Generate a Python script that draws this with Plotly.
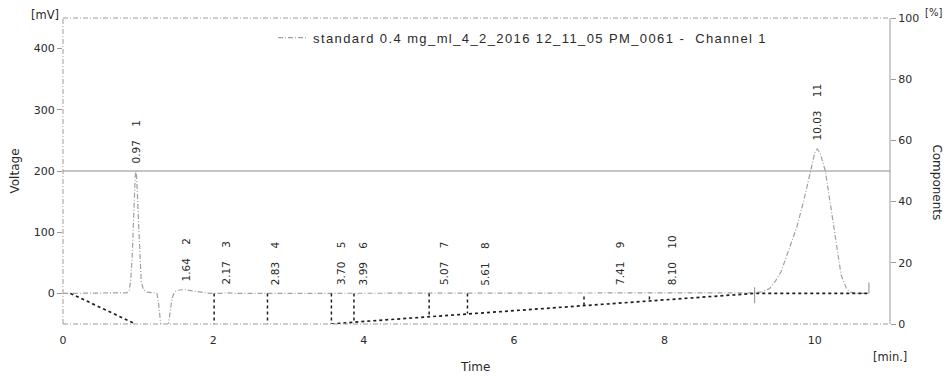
import plotly.graph_objects as go

# Detector signal, Channel 1 (time in min, voltage in mV)
time_min = [0.00, 0.30, 0.60, 0.80, 0.85, 0.88, 0.90, 0.92, 0.94, 0.96, 0.97, 0.98,
            1.00, 1.02, 1.04, 1.07, 1.12, 1.20, 1.25, 1.27, 1.29, 1.31, 1.35, 1.39,
            1.42, 1.45, 1.48, 1.52, 1.58, 1.64, 1.72, 1.82, 1.95, 2.10, 2.17, 2.30,
            2.55, 2.83, 3.10, 3.40, 3.70, 3.85, 3.99, 4.30, 4.70, 5.07, 5.35, 5.61,
            6.00, 6.50, 7.00, 7.41, 7.80, 8.10, 8.50, 8.90, 9.10, 9.20, 9.30, 9.40,
            9.48, 9.55, 9.65, 9.76, 9.85, 9.94, 10.00, 10.03, 10.07, 10.14, 10.20,
            10.25, 10.30, 10.35, 10.38, 10.42, 10.47, 10.55, 10.65, 10.72]
voltage_mv = [0, 0, 0, 0, 1, 5, 20, 60, 130, 190, 200, 190,
              130, 60, 20, 6, 2, 1, 0, -15, -45, -62, -66, -60,
              -35, -8, 2, 5, 6, 6, 4, 2, 0, 0, 1, 0,
              0, 1, 0, 0, 1, 0, 1, 0, 0, 1, 0, 1,
              0, 0, 0, 1, 0, 1, 0, 0, 0, 1, 3, 8,
              21, 35, 70, 108, 150, 200, 230, 236, 230, 200, 150,
              108, 65, 30, 21, 8, 2, 0, 0, 0]

# Integration results
peak_rt = [0.97, 1.64, 2.17, 2.83, 3.70, 3.99, 5.07, 5.61, 7.41, 8.10, 10.03]
peak_no = [1, 2, 3, 4, 5, 6, 7, 8, 9, 10, 11]
peak_apex_mv = [200, 6, 1, 0, 0, 0, 0, 0, 0, 0, 236]

# Integration baselines (dotted)
base1_t = [0.10, 0.93]
base1_v = [0, -48]
base2_t = [3.57, 3.87, 9.20, 10.72]
base2_v = [-50, -47, 0, 0]

# Peak boundary drop lines
drop_t = [2.01, 2.72, 3.57, 3.87, 4.87, 5.38, 6.93, 7.80]
drop_top = [0, 0, 0, 0, 0, 0, -5, -5]
drop_bot = [-50, -50, -50, -47, -38, -33, -20, -13]

# Event markers
mark_t = [9.20, 10.72]
mark_top = [10, 18]
mark_bot = [-16, 0]

x_ticks = [0, 2, 4, 6, 8, 10]
y_ticks = [0, 100, 200, 300, 400]
y2_ticks = [0, 20, 40, 60, 80, 100]

TXT = "#2a2a2a"
AX = "#9a9a9a"
FINE_DASH = "5px,2px,1px,2px"
TICKFONT = dict(family="DejaVu Sans", size=11, color=TXT)

fig = go.Figure()

fig.add_trace(go.Scatter(
    x=time_min, y=voltage_mv, mode="lines",
    name='<span style="letter-spacing:1.4px">standard 0.4 mg_ml_4_2_2016 12_11_05 PM_0061 -  Channel 1</span>',
    line=dict(color="#a0a0a0", width=1.2, dash=FINE_DASH),
))

fig.add_trace(go.Scatter(x=base1_t, y=base1_v, mode="lines", showlegend=False,
                         line=dict(color="#1e1e1e", width=1.7, dash="dot")))
fig.add_trace(go.Scatter(x=base2_t, y=base2_v, mode="lines", showlegend=False,
                         line=dict(color="#1e1e1e", width=1.7, dash="dot")))

dx, dy = [], []
for t, a, b in zip(drop_t, drop_top, drop_bot):
    dx += [t, t, None]
    dy += [a, b, None]
fig.add_trace(go.Scatter(x=dx, y=dy, mode="lines", showlegend=False,
                         line=dict(color="#1e1e1e", width=1.5, dash="dot")))

mx, my = [], []
for t, a, b in zip(mark_t, mark_top, mark_bot):
    mx += [t, t, None]
    my += [a, b, None]
fig.add_trace(go.Scatter(x=mx, y=my, mode="lines", showlegend=False,
                         line=dict(color="#8a8a8a", width=1)))

# secondary axis for the Components scale
fig.add_trace(go.Scatter(x=[None], y=[None], yaxis="y2", showlegend=False))

# peak labels: retention time and peak number
for rt, no, h in zip(peak_rt, peak_no, peak_apex_mv):
    fig.add_annotation(
        x=rt, y=h, xref="x", yref="y",
        text=f"{rt:.2f}" + "\u00a0" * 4 + f"{no}",
        textangle=-90, showarrow=False,
        xanchor="center", yanchor="bottom", yshift=6,
        font=dict(family="DejaVu Sans", size=10.5, color=TXT),
    )

# frame: dash-dot left/top/bottom, solid right, and the 200 mV line
frame = [
    dict(x0=0, x1=0, y0=0, y1=1, dash=FINE_DASH),
    dict(x0=0, x1=1, y0=1, y1=1, dash=FINE_DASH),
    dict(x0=0, x1=1, y0=0, y1=0, dash=FINE_DASH),
    dict(x0=1, x1=1, y0=0, y1=1, dash="solid"),
]
for f in frame:
    fig.add_shape(type="line", xref="paper", yref="paper",
                  x0=f["x0"], x1=f["x1"], y0=f["y0"], y1=f["y1"],
                  line=dict(color=AX, width=1, dash=f["dash"]))
fig.add_shape(type="line", xref="paper", yref="y", x0=0, x1=1, y0=200, y1=200,
              line=dict(color="#8c8c8c", width=1))


def px_x(p):
    return (p - 63) / 827


def px_y(p):
    return (324 - p) / 309


# axis titles and units
labels = [
    ("Voltage", 15, 170, -90, 12),
    ("Components", 937, 181, 90, 12),
    ("Time", 475, 367, 0, 12),
    ("[min.]", 890, 357, 0, 11.5),
    ("[mV]", 45, 12, 0, 11.5),
    ("[%]", 933, 9, 0, 10),
]
for txt, px, py, ang, sz in labels:
    fig.add_annotation(x=px_x(px), y=px_y(py), xref="paper", yref="paper",
                       text=txt, textangle=ang, showarrow=False,
                       xanchor="center", yanchor="middle",
                       font=dict(family="DejaVu Sans", size=sz, color=TXT))

fig.update_layout(
    width=945, height=379,
    margin=dict(l=63, r=55, t=15, b=55),
    paper_bgcolor="white", plot_bgcolor="white",
    showlegend=True,
    legend=dict(x=0.254, y=0.985, xanchor="left", yanchor="top",
                orientation="h", bgcolor="rgba(0,0,0,0)", itemwidth=30,
                font=dict(family="Liberation Sans", size=13, color=TXT)),
    xaxis=dict(range=[0, 11], tickvals=x_ticks, showgrid=False, zeroline=False,
               showline=False, ticks="", ticklabelstandoff=8, tickfont=TICKFONT),
    yaxis=dict(range=[-50, 450], tickvals=y_ticks, showgrid=False, zeroline=False,
               showline=False, ticks="outside", ticklen=5, tickcolor=AX,
               tickfont=TICKFONT),
    yaxis2=dict(range=[0, 100], tickvals=y2_ticks, overlaying="y", side="right",
                showgrid=False, zeroline=False, showline=False, ticks="outside",
                ticklen=5, tickcolor=AX, tickfont=TICKFONT),
)

fig.write_html("out.html")
